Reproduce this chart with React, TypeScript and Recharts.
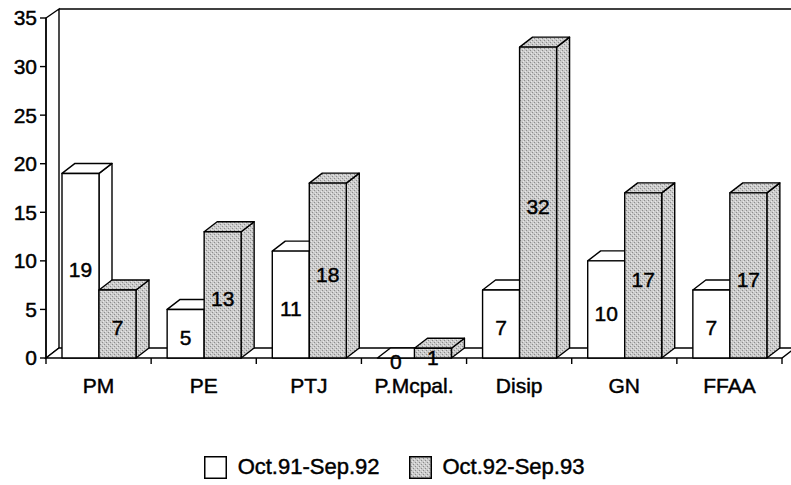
import { BarChart, Bar, XAxis, YAxis, Legend, LabelList, usePlotArea } from "recharts";

const categories = ["PM", "PE", "PTJ", "P.Mcpal.", "Disip", "GN", "FFAA"];
const period1 = [19, 5, 11, 0, 7, 10, 7];
const period2 = [7, 13, 18, 1, 32, 17, 17];
const seriesNames = ["Oct.91-Sep.92", "Oct.92-Sep.93"];
const yTicks = [0, 5, 10, 15, 20, 25, 30, 35];

const data = categories.map((cat, i) => ({ cat, a: period1[i], b: period2[i] }));

const DX = 13;
const DY = 10;
const FONT = "'Liberation Sans', Arial, Helvetica, sans-serif";
const GRAY = "url(#stipple)";
// scanned print looks a bit heavier than plain regular weight
const INK = { fill: "#000", stroke: "#000", strokeWidth: 0.45, fontFamily: FONT };

// front face + top + right side, like the old 3D spreadsheet bars
function Box3D(props: any) {
  const { x, y, width: w, height: h, fill } = props;
  if (x == null || y == null) return null;
  const top = `${x},${y} ${x + DX},${y - DY} ${x + w + DX},${y - DY} ${x + w},${y}`;
  const side = `${x + w},${y} ${x + w + DX},${y - DY} ${x + w + DX},${y + h - DY} ${x + w},${y + h}`;
  return (
    <g stroke="#000" strokeWidth={1.4} strokeLinejoin="round">
      <polygon points={side} fill={fill} />
      <polygon points={top} fill={fill} />
      <rect x={x} y={y} width={w} height={h} fill={fill} />
    </g>
  );
}

// floor, left wall, back edge and category boundary ticks
function Room() {
  const plot = usePlotArea();
  if (!plot) return null;
  const { x: left, y: top, width, height } = plot;
  const right = left + width;
  const bottom = top + height;
  const band = width / categories.length;
  const bounds = Array.from({ length: categories.length + 1 }, (_, i) => left + i * band);
  return (
    <g stroke="#000" strokeWidth={1.4} fill="#fff">
      <defs>
        <pattern id="stipple" width="4" height="4" patternUnits="userSpaceOnUse">
          <rect width="4" height="4" fill="#cbcbcb" stroke="none" />
          <rect x="0" y="0" width="1" height="1" fill="#8c8c8c" stroke="none" />
          <rect x="2" y="2" width="1" height="1" fill="#8c8c8c" stroke="none" />
          <rect x="3" y="1" width="1" height="1" fill="#e8e8e8" stroke="none" />
          <rect x="1" y="3" width="1" height="1" fill="#e8e8e8" stroke="none" />
        </pattern>
      </defs>
      <polygon
        points={`${left},${top} ${left + DX},${top - DY + 1} ${left + DX},${bottom - DY} ${left},${bottom}`}
      />
      <line x1={left + DX} y1={top - DY + 1} x2={right + DX + 20} y2={top - DY + 1} />
      <polygon
        points={`${left},${bottom} ${right},${bottom} ${right + DX},${bottom - DY} ${left + DX},${bottom - DY}`}
      />
      {bounds.map((bx, i) => (
        <line key={i} x1={bx} y1={bottom} x2={bx} y2={bottom + 6} />
      ))}
    </g>
  );
}

function LegendBox() {
  const fills = ["#fff", GRAY];
  return (
    <div
      style={{
        display: "flex",
        justifyContent: "center",
        gap: 29,
        fontFamily: FONT,
        fontSize: 22,
        WebkitTextStroke: "0.45px #000",
        marginLeft: 6,
      }}
    >
      {seriesNames.map((name, i) => (
        <div key={name} style={{ display: "flex", alignItems: "center", gap: 11 }}>
          <svg width={23} height={23}>
            <rect x={0.75} y={0.75} width={21.5} height={21.5} fill={fills[i]} stroke="#000" strokeWidth={1.5} />
          </svg>
          <span>{name}</span>
        </div>
      ))}
    </div>
  );
}

export default function App() {
  return (
    <div style={{ position: "absolute", left: 0, top: 0, background: "#fff" }}>
      <BarChart
        width={791}
        height={485}
        data={data}
        margin={{ top: 18, right: 9, left: 0, bottom: 3 }}
        barCategoryGap={16}
        barGap={0}
      >
        <Room />
        <YAxis
          width={46}
          domain={[0, 35]}
          ticks={yTicks}
          interval={0}
          axisLine={{ stroke: "#000", strokeWidth: 1.4 }}
          tickLine={{ stroke: "#000", strokeWidth: 1.4 }}
          tickSize={6}
          tickMargin={3}
          tick={{ ...INK, fontSize: 21 }}
        />
        <XAxis
          dataKey="cat"
          height={96}
          axisLine={false}
          tickLine={false}
          interval={0}
          tickMargin={14}
          tick={{ ...INK, fontSize: 21 }}
        />
        <Bar dataKey="a" name={seriesNames[0]} fill="#fff" shape={Box3D} isAnimationActive={false}>
          <LabelList dataKey="a" position="center" dy={4} {...INK} fontSize={21} />
        </Bar>
        <Bar dataKey="b" name={seriesNames[1]} fill={GRAY} shape={Box3D} isAnimationActive={false}>
          <LabelList dataKey="b" position="center" dy={4} {...INK} fontSize={21} />
        </Bar>
        <Legend verticalAlign="bottom" height={28} content={() => <LegendBox />} />
      </BarChart>
    </div>
  );
}
